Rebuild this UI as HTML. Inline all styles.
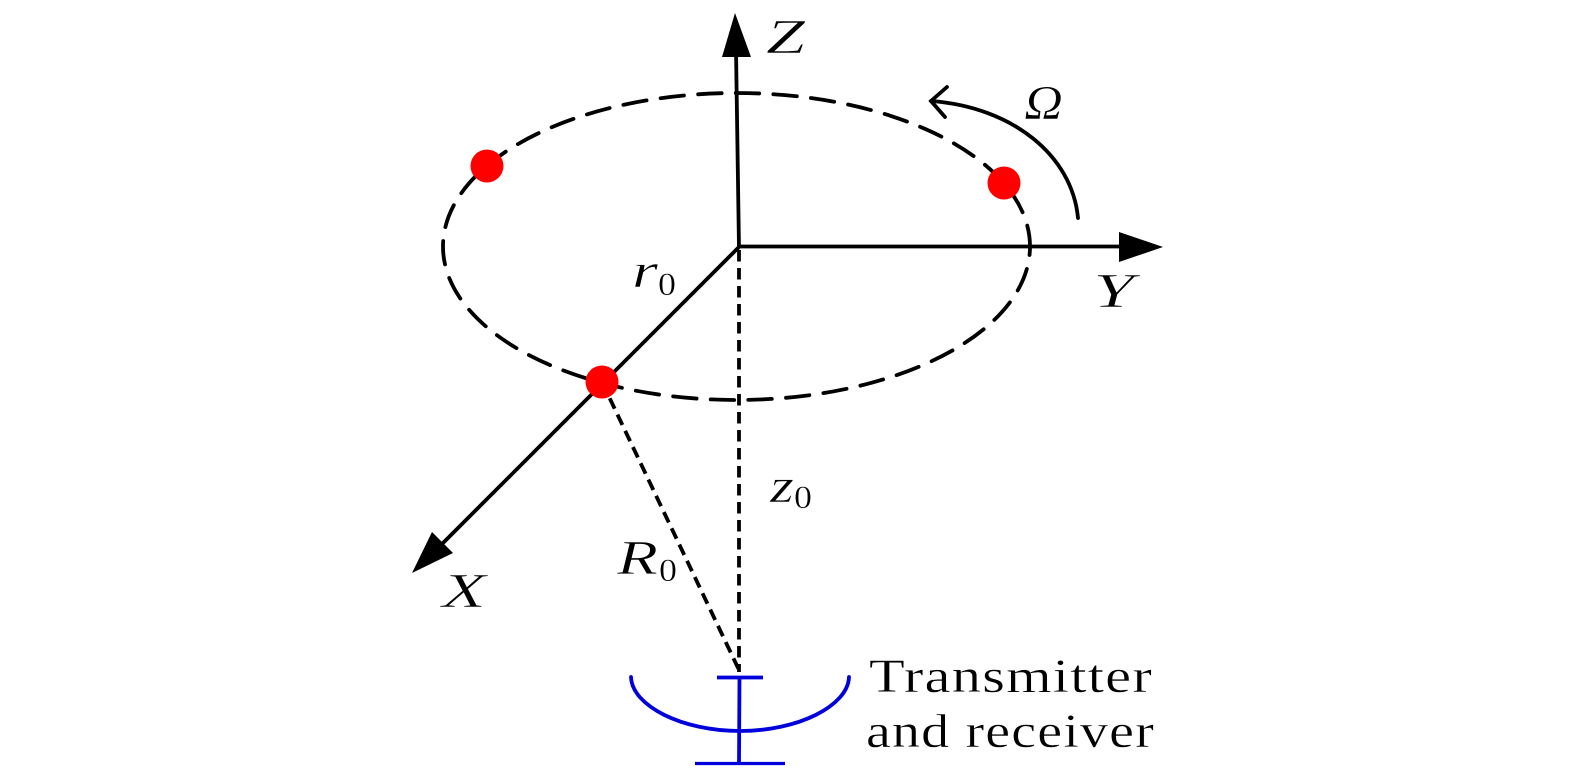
<!DOCTYPE html>
<html>
<head>
<meta charset="utf-8">
<style>
html,body{margin:0;padding:0;background:#fff;width:1575px;height:778px;overflow:hidden}
svg{display:block}
text{font-family:"Liberation Serif",serif;fill:#000}
.m{font-style:italic;font-size:49px;stroke:#fff;stroke-width:.6px}
.s{font-size:33px;stroke:#fff;stroke-width:.4px}
.t{font-size:48px;letter-spacing:1px;stroke:#fff;stroke-width:.4px}
</style>
</head>
<body>
<svg width="1575" height="778" viewBox="0 0 1575 778" xmlns="http://www.w3.org/2000/svg">
<rect width="1575" height="778" fill="#fff"/>
<ellipse cx="736.5" cy="246.5" rx="293.5" ry="153.5" fill="none" stroke="#000" stroke-width="3.8" stroke-linecap="round" stroke-dasharray="23.5 14.2" stroke-dashoffset="15"/>
<g stroke="#000" stroke-width="3.8" fill="none">
<line x1="736" y1="50" x2="739" y2="248"/>
<line x1="737" y1="246.5" x2="1122" y2="246.5"/>
<line x1="739" y1="247" x2="440" y2="546"/>
<line x1="739" y1="250" x2="739" y2="672" stroke-dasharray="11.5 6.5"/>
<line x1="602" y1="382" x2="739" y2="670" stroke-dasharray="11.5 6.5"/>
<path d="M1078 218C1072 155 1012 107 931 101" stroke-linecap="round"/>
<path d="M947 87L931 101L945 117" stroke-linecap="round" stroke-linejoin="miter"/>
</g>
<polygon points="735,13 722,57 751,57" fill="#000"/>
<polygon points="1163,247 1119,232 1119,262" fill="#000"/>
<polygon points="412,573 432,532 453,553" fill="#000"/>
<circle cx="487" cy="166" r="16.5" fill="#f00"/>
<circle cx="1004" cy="183" r="16.5" fill="#f00"/>
<circle cx="602" cy="382" r="16.5" fill="#f00"/>
<g stroke="#0000dc" fill="none" stroke-width="3.8">
<path d="M631 677C632 706 682 731 740 731C798 731 848 706 849 677" stroke-linecap="round"/>
<line x1="739.5" y1="677" x2="739" y2="764"/>
<line x1="717" y1="677.5" x2="763" y2="677.5"/>
<line x1="695" y1="763.5" x2="785" y2="763.5" stroke-width="3.2"/>
</g>
<text class="m" x="766" y="53" textLength="39" lengthAdjust="spacingAndGlyphs">Z</text>
<text class="m" x="1093" y="307" textLength="41" lengthAdjust="spacingAndGlyphs">Y</text>
<text class="m" x="442" y="607" textLength="44" lengthAdjust="spacingAndGlyphs">X</text>
<text class="m" x="1024" y="119" textLength="39" lengthAdjust="spacingAndGlyphs">Ω</text>
<text class="m" x="632" y="287" textLength="26" lengthAdjust="spacingAndGlyphs">r</text>
<text class="s" x="658" y="295" textLength="18" lengthAdjust="spacingAndGlyphs">0</text>
<text class="m" x="770" y="502" textLength="24" lengthAdjust="spacingAndGlyphs">z</text>
<text class="s" x="794" y="508" textLength="18" lengthAdjust="spacingAndGlyphs">0</text>
<text class="m" x="617" y="574" textLength="41" lengthAdjust="spacingAndGlyphs">R</text>
<text class="s" x="659" y="581" textLength="18" lengthAdjust="spacingAndGlyphs">0</text>
<text class="t" x="869" y="692" textLength="284" lengthAdjust="spacingAndGlyphs">Transmitter</text>
<text class="t" x="866" y="747" textLength="289" lengthAdjust="spacingAndGlyphs">and receiver</text>
</svg>
</body>
</html>
